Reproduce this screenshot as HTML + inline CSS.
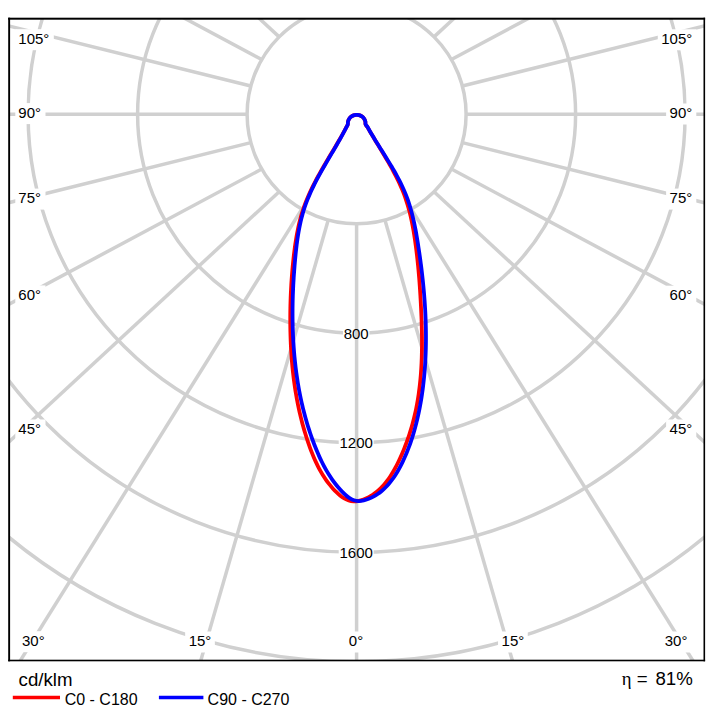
<!DOCTYPE html>
<html lang="en"><head><meta charset="utf-8"><title>Polar diagram</title>
<style>html,body{margin:0;padding:0;background:#fff}body{width:720px;height:722px;overflow:hidden}svg{display:block}text{font-family:"Liberation Sans",Arial,Helvetica,sans-serif;fill:#000}</style>
</head><body>
<svg width="720" height="722" viewBox="0 0 720 722">
<rect x="0" y="0" width="720" height="722" fill="#fff"/>
<defs><clipPath id="fr"><rect x="9.20" y="18.50" width="695.30" height="641.80"/></clipPath></defs>
<g clip-path="url(#fr)">
<g fill="none" stroke="#d0d0d0" stroke-width="3.5">
<circle cx="356.60" cy="114.30" r="109.50"/>
<circle cx="356.60" cy="114.30" r="219.00"/>
<circle cx="356.60" cy="114.30" r="328.50"/>
<circle cx="356.60" cy="114.30" r="438.00"/>
<circle cx="356.60" cy="114.30" r="547.50"/>
<circle cx="356.60" cy="114.30" r="657.00"/>
</g>
<rect x="342.95" y="322.80" width="26.50" height="21" fill="#fff"/>
<rect x="338.70" y="432.30" width="35.00" height="21" fill="#fff"/>
<rect x="338.70" y="541.80" width="35.00" height="21" fill="#fff"/>
<g stroke="#d0d0d0" stroke-width="3.5" stroke-linecap="butt">
<line x1="356.60" y1="223.80" x2="356.60" y2="1123.80"/>
<line x1="384.94" y1="220.07" x2="635.12" y2="1084.60"/>
<line x1="411.35" y1="209.13" x2="887.55" y2="972.83"/>
<line x1="434.03" y1="191.73" x2="1094.41" y2="803.20"/>
<line x1="451.43" y1="169.05" x2="1245.14" y2="593.35"/>
<line x1="462.37" y1="142.64" x2="1335.89" y2="359.36"/>
<line x1="466.10" y1="114.30" x2="1366.10" y2="114.30"/>
<line x1="462.37" y1="85.96" x2="1335.89" y2="-130.76"/>
<line x1="451.43" y1="59.55" x2="1245.14" y2="-364.75"/>
<line x1="434.03" y1="36.87" x2="1094.41" y2="-574.60"/>
<line x1="411.35" y1="19.47" x2="887.55" y2="-744.23"/>
<line x1="384.94" y1="8.53" x2="635.12" y2="-856.00"/>
<line x1="356.60" y1="4.80" x2="356.60" y2="-895.20"/>
<line x1="328.26" y1="8.53" x2="78.08" y2="-856.00"/>
<line x1="301.85" y1="19.47" x2="-174.35" y2="-744.23"/>
<line x1="279.17" y1="36.87" x2="-381.21" y2="-574.60"/>
<line x1="261.77" y1="59.55" x2="-531.94" y2="-364.75"/>
<line x1="250.83" y1="85.96" x2="-622.69" y2="-130.76"/>
<line x1="247.10" y1="114.30" x2="-652.90" y2="114.30"/>
<line x1="250.83" y1="142.64" x2="-622.69" y2="359.36"/>
<line x1="261.77" y1="169.05" x2="-531.94" y2="593.35"/>
<line x1="279.17" y1="191.73" x2="-381.21" y2="803.20"/>
<line x1="301.85" y1="209.13" x2="-174.35" y2="972.83"/>
<line x1="328.26" y1="220.07" x2="78.08" y2="1084.60"/>
</g>
<rect x="15.30" y="29.20" width="38.52" height="21" fill="#fff"/>
<text x="18.30" y="43.90" font-size="15" text-anchor="start">105°</text>
<rect x="15.30" y="103.10" width="30.18" height="21" fill="#fff"/>
<text x="18.30" y="117.80" font-size="15" text-anchor="start">90°</text>
<rect x="15.30" y="188.60" width="30.18" height="21" fill="#fff"/>
<text x="18.30" y="203.30" font-size="15" text-anchor="start">75°</text>
<rect x="15.30" y="285.40" width="30.18" height="21" fill="#fff"/>
<text x="18.30" y="300.10" font-size="15" text-anchor="start">60°</text>
<rect x="15.30" y="419.50" width="30.18" height="21" fill="#fff"/>
<text x="18.30" y="434.20" font-size="15" text-anchor="start">45°</text>
<rect x="19.00" y="631.20" width="30.18" height="21" fill="#fff"/>
<text x="22.00" y="645.90" font-size="15" text-anchor="start">30°</text>
<rect x="185.16" y="631.50" width="29.68" height="21" fill="#fff"/>
<text x="200.00" y="646.20" font-size="15" text-anchor="middle">15°</text>
<rect x="345.33" y="631.50" width="21.34" height="21" fill="#fff"/>
<text x="356.00" y="646.20" font-size="15" text-anchor="middle">0°</text>
<rect x="498.06" y="631.50" width="29.68" height="21" fill="#fff"/>
<text x="512.90" y="646.20" font-size="15" text-anchor="middle">15°</text>
<rect x="661.22" y="631.50" width="30.18" height="21" fill="#fff"/>
<text x="687.40" y="646.20" font-size="15" text-anchor="end">30°</text>
<rect x="666.12" y="419.50" width="30.18" height="21" fill="#fff"/>
<text x="692.30" y="434.20" font-size="15" text-anchor="end">45°</text>
<rect x="666.12" y="285.70" width="30.18" height="21" fill="#fff"/>
<text x="692.30" y="300.40" font-size="15" text-anchor="end">60°</text>
<rect x="666.12" y="188.60" width="30.18" height="21" fill="#fff"/>
<text x="692.30" y="203.30" font-size="15" text-anchor="end">75°</text>
<rect x="666.12" y="103.50" width="30.18" height="21" fill="#fff"/>
<text x="692.30" y="118.20" font-size="15" text-anchor="end">90°</text>
<rect x="657.78" y="29.30" width="38.52" height="21" fill="#fff"/>
<text x="692.30" y="44.00" font-size="15" text-anchor="end">105°</text>
<text x="356.2" y="338.70" font-size="15" text-anchor="middle">800</text>
<text x="356.2" y="448.20" font-size="15" text-anchor="middle">1200</text>
<text x="356.2" y="557.70" font-size="15" text-anchor="middle">1600</text>
<path d="M356.70,114.80 C356.17,114.90 354.45,115.07 353.50,115.40 C352.55,115.73 351.73,116.22 350.99,116.80 C350.25,117.38 349.58,118.10 349.07,118.90 C348.57,119.70 348.18,120.68 347.96,121.60 C347.73,122.52 348.00,123.47 347.74,124.40 C347.48,125.33 347.03,125.96 346.41,127.17 C345.79,128.37 344.82,130.15 344.01,131.63 C343.20,133.12 342.37,134.60 341.53,136.08 C340.69,137.57 339.84,139.05 338.99,140.53 C338.13,142.01 337.26,143.48 336.39,144.96 C335.52,146.44 334.64,147.92 333.76,149.40 C332.88,150.88 332.00,152.36 331.12,153.84 C330.23,155.32 329.35,156.81 328.46,158.29 C327.58,159.78 326.70,161.26 325.82,162.75 C324.95,164.24 324.07,165.73 323.21,167.23 C322.34,168.73 321.48,170.23 320.63,171.73 C319.78,173.24 318.94,174.74 318.11,176.26 C317.28,177.77 316.46,179.29 315.66,180.81 C314.86,182.34 314.07,183.86 313.30,185.40 C312.53,186.94 311.77,188.48 311.04,190.03 C310.30,191.58 309.58,193.13 308.89,194.70 C308.19,196.26 307.52,197.83 306.87,199.42 C306.22,201.00 305.60,202.59 305.00,204.18 C304.40,205.78 303.83,207.39 303.29,209.01 C302.75,210.63 302.24,212.25 301.75,213.89 C301.26,215.52 300.80,217.17 300.36,218.82 C299.92,220.47 299.50,222.13 299.11,223.80 C298.71,225.46 298.34,227.14 297.99,228.81 C297.64,230.49 297.31,232.18 297.00,233.87 C296.68,235.55 296.39,237.25 296.11,238.94 C295.83,240.64 295.56,242.34 295.31,244.05 C295.06,245.75 294.83,247.46 294.61,249.17 C294.38,250.88 294.17,252.59 293.97,254.30 C293.77,256.01 293.58,257.73 293.40,259.44 C293.21,261.15 293.04,262.87 292.87,264.58 C292.71,266.29 292.55,268.01 292.40,269.72 C292.25,271.43 292.10,273.15 291.97,274.86 C291.84,276.58 291.71,278.29 291.59,280.00 C291.47,281.72 291.36,283.43 291.26,285.15 C291.16,286.86 291.06,288.58 290.98,290.29 C290.89,292.01 290.81,293.72 290.74,295.44 C290.67,297.15 290.61,298.87 290.55,300.58 C290.50,302.30 290.45,304.01 290.41,305.73 C290.37,307.44 290.34,309.16 290.31,310.87 C290.29,312.59 290.27,314.31 290.26,316.02 C290.25,317.74 290.25,319.46 290.26,321.17 C290.26,322.89 290.28,324.61 290.30,326.32 C290.32,328.04 290.35,329.76 290.39,331.48 C290.43,333.19 290.47,334.91 290.53,336.63 C290.58,338.34 290.64,340.06 290.71,341.78 C290.78,343.49 290.86,345.21 290.95,346.92 C291.04,348.64 291.14,350.35 291.25,352.07 C291.36,353.78 291.47,355.50 291.60,357.21 C291.73,358.92 291.86,360.63 292.01,362.34 C292.16,364.05 292.31,365.76 292.48,367.47 C292.65,369.18 292.83,370.89 293.01,372.59 C293.20,374.30 293.40,376.00 293.61,377.70 C293.83,379.41 294.05,381.11 294.28,382.81 C294.51,384.51 294.76,386.20 295.02,387.90 C295.27,389.59 295.54,391.29 295.83,392.98 C296.11,394.67 296.40,396.36 296.71,398.05 C297.01,399.73 297.33,401.42 297.66,403.10 C298.00,404.78 298.34,406.46 298.70,408.14 C299.06,409.82 299.43,411.49 299.81,413.16 C300.20,414.83 300.60,416.50 301.01,418.17 C301.42,419.83 301.85,421.50 302.29,423.16 C302.73,424.81 303.19,426.47 303.66,428.12 C304.13,429.78 304.61,431.43 305.11,433.07 C305.61,434.72 306.13,436.36 306.66,438.00 C307.19,439.64 307.74,441.28 308.30,442.91 C308.86,444.54 309.44,446.17 310.03,447.79 C310.63,449.41 311.24,451.03 311.87,452.64 C312.51,454.25 313.16,455.85 313.84,457.44 C314.52,459.02 315.21,460.60 315.94,462.16 C316.67,463.73 317.42,465.28 318.21,466.81 C319.00,468.34 319.81,469.86 320.65,471.35 C321.50,472.84 322.38,474.32 323.29,475.77 C324.21,477.22 325.16,478.65 326.15,480.06 C327.14,481.46 328.16,482.84 329.23,484.19 C330.30,485.54 331.41,486.86 332.57,488.15 C333.72,489.44 334.92,490.71 336.17,491.92 C337.42,493.14 338.71,494.36 340.05,495.44 C341.40,496.53 342.79,497.58 344.23,498.43 C345.68,499.27 347.17,500.03 348.72,500.52 C350.27,501.02 351.88,501.32 353.51,501.39 C355.15,501.46 356.86,501.25 358.54,500.93 C360.21,500.62 361.92,500.07 363.55,499.48 C365.18,498.88 366.78,498.15 368.30,497.37 C369.83,496.59 371.29,495.72 372.71,494.79 C374.12,493.87 375.47,492.86 376.78,491.80 C378.09,490.74 379.34,489.60 380.55,488.42 C381.75,487.24 382.91,486.00 384.02,484.72 C385.14,483.43 386.21,482.10 387.24,480.72 C388.27,479.35 389.26,477.93 390.22,476.48 C391.17,475.04 392.09,473.55 392.98,472.05 C393.87,470.54 394.72,469.00 395.54,467.45 C396.37,465.90 397.16,464.32 397.94,462.74 C398.71,461.16 399.46,459.57 400.18,457.97 C400.91,456.37 401.61,454.77 402.30,453.17 C402.98,451.56 403.65,449.96 404.29,448.35 C404.94,446.73 405.56,445.12 406.17,443.50 C406.77,441.89 407.36,440.27 407.92,438.65 C408.49,437.02 409.04,435.40 409.56,433.77 C410.09,432.14 410.60,430.50 411.09,428.86 C411.58,427.23 412.05,425.59 412.50,423.94 C412.95,422.30 413.38,420.65 413.80,419.00 C414.21,417.34 414.61,415.69 414.99,414.03 C415.37,412.37 415.73,410.70 416.07,409.04 C416.41,407.37 416.74,405.70 417.04,404.02 C417.35,402.35 417.64,400.67 417.92,398.98 C418.19,397.30 418.45,395.62 418.69,393.93 C418.93,392.24 419.16,390.54 419.37,388.85 C419.58,387.15 419.78,385.45 419.96,383.75 C420.15,382.05 420.31,380.35 420.47,378.64 C420.63,376.94 420.77,375.23 420.90,373.52 C421.02,371.81 421.14,370.10 421.24,368.38 C421.35,366.67 421.44,364.95 421.52,363.23 C421.60,361.52 421.67,359.80 421.73,358.08 C421.79,356.35 421.83,354.63 421.87,352.91 C421.91,351.19 421.94,349.46 421.95,347.74 C421.97,346.01 421.98,344.29 421.98,342.56 C421.98,340.84 421.97,339.11 421.96,337.38 C421.94,335.66 421.92,333.93 421.89,332.20 C421.86,330.48 421.82,328.75 421.77,327.02 C421.73,325.30 421.68,323.57 421.62,321.85 C421.56,320.12 421.50,318.40 421.43,316.67 C421.37,314.95 421.29,313.23 421.21,311.50 C421.14,309.78 421.06,308.06 420.97,306.34 C420.89,304.62 420.80,302.90 420.70,301.19 C420.61,299.47 420.51,297.76 420.41,296.04 C420.31,294.33 420.21,292.62 420.09,290.91 C419.98,289.19 419.87,287.48 419.75,285.77 C419.63,284.07 419.50,282.36 419.37,280.65 C419.24,278.94 419.10,277.24 418.96,275.53 C418.82,273.83 418.67,272.12 418.51,270.42 C418.36,268.71 418.20,267.01 418.03,265.31 C417.86,263.61 417.69,261.91 417.51,260.20 C417.32,258.50 417.14,256.80 416.94,255.10 C416.74,253.40 416.54,251.70 416.33,250.00 C416.11,248.31 415.90,246.61 415.67,244.91 C415.44,243.21 415.20,241.51 414.96,239.81 C414.71,238.12 414.45,236.42 414.18,234.73 C413.91,233.03 413.63,231.34 413.34,229.65 C413.04,227.97 412.73,226.28 412.40,224.60 C412.07,222.92 411.73,221.24 411.37,219.56 C411.01,217.89 410.63,216.22 410.22,214.56 C409.82,212.90 409.40,211.24 408.96,209.59 C408.51,207.94 408.05,206.29 407.55,204.66 C407.06,203.02 406.55,201.39 406.00,199.77 C405.46,198.15 404.89,196.54 404.29,194.93 C403.69,193.33 403.06,191.73 402.41,190.15 C401.76,188.56 401.07,186.99 400.37,185.42 C399.67,183.85 398.94,182.29 398.19,180.73 C397.45,179.18 396.68,177.63 395.90,176.09 C395.11,174.56 394.31,173.02 393.49,171.50 C392.68,169.97 391.84,168.45 391.00,166.94 C390.16,165.43 389.30,163.92 388.44,162.42 C387.57,160.92 386.70,159.42 385.82,157.93 C384.94,156.44 384.05,154.95 383.16,153.47 C382.28,151.98 381.38,150.51 380.49,149.03 C379.60,147.55 378.70,146.08 377.81,144.61 C376.92,143.15 376.03,141.68 375.15,140.22 C374.27,138.76 373.39,137.30 372.52,135.84 C371.65,134.38 370.79,132.92 369.94,131.47 C369.09,130.01 368.16,128.32 367.42,127.10 C366.68,125.89 365.87,125.12 365.52,124.20 C365.17,123.28 365.55,122.48 365.34,121.60 C365.13,120.72 364.76,119.70 364.27,118.90 C363.77,118.10 363.11,117.38 362.38,116.80 C361.66,116.22 360.84,115.73 359.90,115.40 C358.95,115.07 357.23,114.90 356.70,114.80" fill="none" stroke="#ff0000" stroke-width="3.8" stroke-linejoin="round" stroke-linecap="round"/>
<path d="M356.70,114.80 C356.17,114.90 354.45,115.07 353.50,115.40 C352.55,115.73 351.73,116.22 351.00,116.80 C350.27,117.38 349.60,118.10 349.10,118.90 C348.60,119.70 348.22,120.68 348.00,121.60 C347.78,122.52 348.06,123.47 347.80,124.40 C347.54,125.33 347.05,125.96 346.44,127.16 C345.82,128.37 344.90,130.15 344.11,131.64 C343.32,133.13 342.51,134.61 341.69,136.10 C340.87,137.58 340.04,139.07 339.20,140.55 C338.36,142.04 337.50,143.52 336.65,145.00 C335.79,146.49 334.92,147.97 334.05,149.45 C333.18,150.94 332.31,152.42 331.43,153.91 C330.56,155.39 329.68,156.88 328.80,158.37 C327.93,159.86 327.05,161.35 326.18,162.85 C325.31,164.34 324.44,165.84 323.58,167.34 C322.72,168.85 321.87,170.35 321.03,171.86 C320.18,173.37 319.35,174.88 318.53,176.40 C317.70,177.92 316.89,179.44 316.10,180.97 C315.31,182.50 314.52,184.04 313.76,185.58 C313.00,187.12 312.26,188.67 311.53,190.22 C310.81,191.78 310.11,193.34 309.43,194.91 C308.75,196.48 308.09,198.05 307.46,199.64 C306.83,201.22 306.23,202.82 305.65,204.42 C305.08,206.02 304.53,207.64 304.01,209.26 C303.50,210.88 303.01,212.51 302.55,214.15 C302.09,215.79 301.66,217.44 301.25,219.09 C300.85,220.75 300.47,222.41 300.11,224.08 C299.75,225.75 299.41,227.42 299.09,229.10 C298.78,230.78 298.48,232.47 298.20,234.16 C297.93,235.85 297.67,237.54 297.42,239.24 C297.18,240.94 296.95,242.65 296.73,244.35 C296.52,246.06 296.32,247.77 296.13,249.48 C295.93,251.19 295.76,252.90 295.58,254.61 C295.41,256.32 295.25,258.04 295.09,259.75 C294.94,261.47 294.79,263.18 294.65,264.90 C294.50,266.61 294.37,268.32 294.24,270.04 C294.11,271.75 293.99,273.47 293.87,275.18 C293.75,276.90 293.65,278.61 293.55,280.33 C293.44,282.04 293.35,283.76 293.26,285.47 C293.18,287.19 293.10,288.90 293.03,290.62 C292.95,292.33 292.89,294.05 292.83,295.76 C292.78,297.48 292.73,299.19 292.69,300.91 C292.65,302.62 292.62,304.34 292.59,306.05 C292.57,307.77 292.55,309.48 292.55,311.20 C292.54,312.91 292.54,314.63 292.55,316.34 C292.56,318.05 292.58,319.77 292.61,321.48 C292.63,323.20 292.67,324.91 292.71,326.63 C292.76,328.34 292.81,330.06 292.88,331.77 C292.94,333.49 293.01,335.20 293.09,336.91 C293.18,338.63 293.27,340.34 293.37,342.05 C293.47,343.76 293.58,345.47 293.70,347.19 C293.83,348.90 293.96,350.61 294.10,352.31 C294.24,354.02 294.39,355.73 294.56,357.44 C294.72,359.14 294.90,360.85 295.08,362.55 C295.27,364.26 295.46,365.96 295.67,367.66 C295.88,369.36 296.09,371.06 296.32,372.76 C296.55,374.45 296.80,376.15 297.05,377.84 C297.30,379.54 297.57,381.23 297.84,382.92 C298.12,384.61 298.41,386.30 298.71,387.98 C299.01,389.67 299.33,391.35 299.66,393.03 C299.98,394.71 300.32,396.39 300.67,398.06 C301.03,399.74 301.39,401.41 301.77,403.08 C302.15,404.75 302.54,406.42 302.94,408.08 C303.35,409.74 303.77,411.40 304.20,413.06 C304.63,414.72 305.08,416.37 305.54,418.02 C306.00,419.67 306.47,421.32 306.96,422.96 C307.45,424.61 307.95,426.25 308.47,427.88 C308.99,429.52 309.52,431.15 310.06,432.78 C310.61,434.41 311.17,436.03 311.75,437.65 C312.32,439.27 312.92,440.89 313.52,442.50 C314.13,444.11 314.75,445.72 315.39,447.32 C316.03,448.93 316.68,450.52 317.36,452.11 C318.03,453.70 318.73,455.28 319.44,456.85 C320.16,458.42 320.89,459.99 321.65,461.53 C322.41,463.08 323.19,464.62 324.00,466.14 C324.81,467.66 325.65,469.16 326.51,470.65 C327.38,472.14 328.27,473.61 329.19,475.06 C330.11,476.51 331.06,477.95 332.05,479.35 C333.04,480.76 334.05,482.15 335.11,483.51 C336.16,484.88 337.25,486.22 338.38,487.53 C339.51,488.84 340.67,490.13 341.88,491.38 C343.08,492.63 344.32,493.90 345.62,495.03 C346.91,496.16 348.24,497.27 349.64,498.15 C351.03,499.03 352.48,499.82 353.99,500.31 C355.51,500.80 357.10,501.07 358.73,501.09 C360.35,501.11 362.06,500.82 363.73,500.44 C365.39,500.07 367.08,499.46 368.69,498.83 C370.29,498.20 371.85,497.45 373.35,496.65 C374.85,495.84 376.30,494.95 377.69,494.00 C379.09,493.05 380.43,492.02 381.72,490.94 C383.02,489.86 384.26,488.70 385.46,487.50 C386.66,486.31 387.81,485.04 388.92,483.74 C390.03,482.44 391.10,481.09 392.13,479.70 C393.16,478.31 394.14,476.88 395.10,475.42 C396.05,473.96 396.96,472.46 397.85,470.94 C398.73,469.42 399.57,467.87 400.39,466.31 C401.21,464.76 401.99,463.17 402.75,461.58 C403.51,460.00 404.24,458.39 404.94,456.79 C405.65,455.19 406.33,453.59 406.98,451.98 C407.64,450.37 408.27,448.76 408.88,447.14 C409.49,445.52 410.07,443.90 410.64,442.28 C411.20,440.66 411.74,439.03 412.27,437.40 C412.79,435.77 413.29,434.14 413.77,432.51 C414.26,430.87 414.72,429.23 415.17,427.58 C415.61,425.94 416.04,424.29 416.45,422.64 C416.86,420.99 417.26,419.34 417.63,417.68 C418.01,416.02 418.38,414.36 418.72,412.70 C419.07,411.03 419.41,409.36 419.73,407.69 C420.05,406.02 420.35,404.34 420.65,402.66 C420.94,400.99 421.22,399.30 421.49,397.62 C421.75,395.93 422.01,394.24 422.25,392.55 C422.49,390.86 422.72,389.17 422.93,387.47 C423.15,385.78 423.35,384.08 423.54,382.38 C423.74,380.68 423.91,378.97 424.08,377.27 C424.25,375.56 424.40,373.85 424.55,372.14 C424.69,370.44 424.82,368.72 424.94,367.01 C425.06,365.30 425.17,363.58 425.27,361.87 C425.37,360.15 425.46,358.44 425.53,356.72 C425.61,355.00 425.68,353.28 425.73,351.56 C425.79,349.84 425.83,348.12 425.86,346.40 C425.90,344.68 425.92,342.96 425.94,341.24 C425.95,339.52 425.96,337.80 425.95,336.07 C425.95,334.35 425.93,332.63 425.91,330.91 C425.89,329.19 425.85,327.46 425.81,325.74 C425.77,324.02 425.72,322.30 425.66,320.58 C425.60,318.86 425.53,317.14 425.45,315.42 C425.38,313.71 425.29,311.99 425.20,310.27 C425.10,308.56 425.00,306.84 424.89,305.13 C424.78,303.41 424.67,301.70 424.54,299.99 C424.42,298.28 424.28,296.57 424.15,294.86 C424.01,293.15 423.86,291.44 423.70,289.74 C423.55,288.03 423.39,286.33 423.22,284.62 C423.05,282.92 422.87,281.22 422.69,279.51 C422.51,277.81 422.32,276.11 422.12,274.41 C421.93,272.71 421.73,271.01 421.52,269.31 C421.31,267.61 421.09,265.91 420.87,264.21 C420.65,262.52 420.43,260.82 420.19,259.12 C419.96,257.42 419.72,255.73 419.48,254.03 C419.23,252.34 418.98,250.64 418.72,248.95 C418.47,247.25 418.21,245.55 417.94,243.86 C417.67,242.17 417.40,240.47 417.12,238.78 C416.84,237.09 416.55,235.39 416.25,233.70 C415.95,232.02 415.64,230.33 415.32,228.65 C414.99,226.96 414.65,225.28 414.30,223.61 C413.95,221.93 413.58,220.26 413.19,218.60 C412.80,216.93 412.39,215.27 411.97,213.62 C411.54,211.97 411.09,210.32 410.62,208.68 C410.14,207.04 409.65,205.41 409.13,203.79 C408.60,202.16 408.06,200.55 407.48,198.94 C406.90,197.34 406.30,195.74 405.66,194.16 C405.02,192.58 404.36,191.00 403.66,189.44 C402.97,187.87 402.25,186.32 401.50,184.77 C400.76,183.22 399.99,181.69 399.20,180.16 C398.41,178.63 397.60,177.11 396.77,175.59 C395.94,174.08 395.10,172.57 394.24,171.07 C393.38,169.57 392.50,168.07 391.62,166.58 C390.74,165.09 389.84,163.61 388.94,162.13 C388.04,160.65 387.13,159.18 386.22,157.70 C385.31,156.23 384.39,154.77 383.47,153.30 C382.55,151.84 381.63,150.38 380.71,148.92 C379.80,147.46 378.88,146.00 377.97,144.55 C377.07,143.09 376.16,141.64 375.27,140.18 C374.37,138.73 373.49,137.28 372.62,135.82 C371.74,134.37 370.88,132.91 370.04,131.46 C369.19,130.00 368.29,128.30 367.55,127.09 C366.81,125.88 365.96,125.11 365.60,124.20 C365.24,123.29 365.62,122.48 365.40,121.60 C365.18,120.72 364.80,119.70 364.30,118.90 C363.80,118.10 363.13,117.38 362.40,116.80 C361.67,116.22 360.85,115.73 359.90,115.40 C358.95,115.07 357.23,114.90 356.70,114.80" fill="none" stroke="#0000ff" stroke-width="3.8" stroke-linejoin="round" stroke-linecap="round"/>
</g>
<rect x="8.2" y="17.7" width="696.9" height="2.0" fill="#000"/>
<rect x="8.2" y="17.7" width="1.9" height="643.6" fill="#000"/>
<rect x="8.2" y="659.7" width="696.9" height="1.6" fill="#000"/>
<rect x="703.5" y="17.7" width="1.6" height="643.6" fill="#000"/>
<text x="18.6" y="685.7" font-size="18.67">cd/klm</text>
<text x="692.8" y="685.1" font-size="18.67" text-anchor="end"><tspan font-family="'Liberation Serif',serif">η</tspan> = <tspan dx="2.7">81%</tspan></text>
<line x1="12.8" y1="697.5" x2="60" y2="697.5" stroke="#ff0000" stroke-width="3.4"/>
<text x="64.7" y="705.1" font-size="16">C0 - C180</text>
<line x1="158.9" y1="697.5" x2="203.4" y2="697.5" stroke="#0000ff" stroke-width="3.4"/>
<text x="207.6" y="705.1" font-size="16">C90 - C270</text>
</svg>
</body></html>
